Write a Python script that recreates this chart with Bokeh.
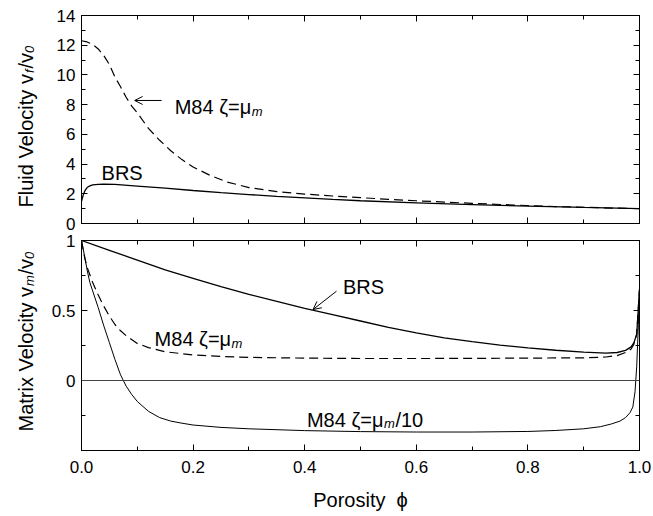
from math import pi
from bokeh.plotting import figure
from bokeh.layouts import column, row
from bokeh.models import Range1d, LinearAxis, FixedTicker, Label, Arrow, OpenHead, Span
from bokeh.embed import file_html
from bokeh.resources import INLINE

FONT = "Liberation Sans"

# ---------------- data ----------------
# Top panel: fluid velocity v_f/v_0
phi_f_m84 = [0, 0.01, 0.02, 0.03, 0.04, 0.05, 0.06, 0.07, 0.08, 0.09, 0.10, 0.12, 0.14,
             0.16, 0.18, 0.20, 0.23, 0.26, 0.30, 0.35, 0.40, 0.45, 0.50, 0.55, 0.60,
             0.65, 0.70, 0.75, 0.80, 0.85, 0.90, 0.95, 1.0]
vf_m84 = [12.3, 12.22, 12.05, 11.75, 11.3, 10.7, 9.85, 9.2, 8.5, 7.9, 7.45, 6.4, 5.6,
          4.9, 4.3, 3.8, 3.25, 2.8, 2.42, 2.15, 1.98, 1.85, 1.74, 1.63, 1.53,
          1.44, 1.36, 1.28, 1.21, 1.14, 1.09, 1.04, 1.0]

phi_f_brs = [0, 0.003, 0.006, 0.01, 0.015, 0.02, 0.03, 0.04, 0.06, 0.10, 0.15, 0.20,
             0.25, 0.30, 0.35, 0.40, 0.45, 0.50, 0.60, 0.70, 0.80, 0.90, 1.0]
vf_brs = [1.5, 1.9, 2.2, 2.42, 2.53, 2.6, 2.64, 2.65, 2.63, 2.52, 2.38, 2.22,
          2.08, 1.95, 1.83, 1.72, 1.62, 1.53, 1.39, 1.27, 1.17, 1.08, 1.0]

# Bottom panel: matrix velocity v_m/v_0
phi_m_brs = [0, 0.05, 0.10, 0.15, 0.20, 0.25, 0.30, 0.35, 0.40, 0.45, 0.50, 0.55,
             0.60, 0.65, 0.70, 0.75, 0.80, 0.85, 0.90, 0.94, 0.96, 0.975, 0.985,
             0.99, 0.995, 1.0]
vm_brs = [1.0, 0.93, 0.86, 0.79, 0.73, 0.67, 0.615, 0.565, 0.515, 0.47, 0.425, 0.38,
          0.34, 0.305, 0.277, 0.253, 0.233, 0.216, 0.203, 0.195, 0.2, 0.215, 0.24,
          0.27, 0.33, 0.65]

phi_m_m84 = [0, 0.005, 0.01, 0.02, 0.03, 0.04, 0.05, 0.06, 0.07, 0.08, 0.10, 0.12,
             0.15, 0.20, 0.25, 0.30, 0.40, 0.50, 0.60, 0.70, 0.80, 0.90, 0.94,
             0.96, 0.975, 0.985, 0.99, 0.995, 1.0]
vm_m84 = [1.0, 0.89, 0.81, 0.70, 0.61, 0.53, 0.46, 0.40, 0.355, 0.32, 0.265, 0.235,
          0.205, 0.183, 0.172, 0.165, 0.16, 0.157, 0.157, 0.158, 0.16, 0.162, 0.168,
          0.178, 0.2, 0.225, 0.26, 0.33, 0.65]

phi_m_m84_10 = [0, 0.005, 0.01, 0.015, 0.02, 0.03, 0.04, 0.05, 0.06, 0.07, 0.08, 0.09,
                0.10, 0.12, 0.14, 0.16, 0.18, 0.20, 0.25, 0.30, 0.40, 0.50, 0.60,
                0.70, 0.80, 0.85, 0.90, 0.93, 0.95, 0.965, 0.975, 0.983, 0.988,
                0.992, 0.995, 0.998, 1.0]
vm_m84_10 = [1.0, 0.9, 0.79, 0.70, 0.64, 0.52, 0.39, 0.27, 0.15, 0.04, -0.04, -0.10,
             -0.15, -0.22, -0.265, -0.29, -0.305, -0.318, -0.335, -0.345, -0.358, -0.365, -0.368,
             -0.368, -0.364, -0.357, -0.345, -0.33, -0.31, -0.29, -0.265, -0.23, -0.19,
             -0.08, 0.1, 0.4, 0.65]

# ticks
x_ticks = [0, 0.2, 0.4, 0.6, 0.8, 1]
x_minor = [0.1, 0.3, 0.5, 0.7, 0.9]
x_tick_labels = ["0.0", "0.2", "0.4", "0.6", "0.8", "1.0"]
top_y_ticks = [0, 2, 4, 6, 8, 10, 12, 14]
top_y_minor = [1, 3, 5, 7, 9, 11, 13]
top_y_labels = ["0", "2", "4", "6", "8", "10", "12", "14"]
bot_y_ticks = [-0.5, 0, 0.5, 1]
bot_y_minor = [-0.25, 0.25, 0.75]
bot_y_labels = ["", "0", "0.5", "1"]

LAB_W = 48
MAIN_W = 653 - LAB_W
TOP_H = 232
BOT_H = 284
TOTAL_H = TOP_H + BOT_H


def make_fig(height, y0, y1, b_top, b_bottom):
    p = figure(width=MAIN_W, height=height, x_range=Range1d(0, 1), y_range=Range1d(y0, y1),
               output_backend="svg", toolbar_location=None,
               x_axis_type=None, y_axis_type=None,
               min_border_left=80 - LAB_W, min_border_right=14,
               min_border_top=b_top, min_border_bottom=b_bottom)
    p.outline_line_color = "black"
    p.outline_line_width = 1
    p.background_fill_color = "white"
    p.border_fill_color = "white"
    return p


def add_axis(p, place, ticks, minor, labels=None, standoff=6):
    ax = LinearAxis(ticker=FixedTicker(ticks=ticks, minor_ticks=minor))
    ax.major_tick_in = 6
    ax.major_tick_out = 0
    ax.minor_tick_in = 4
    ax.minor_tick_out = 0
    ax.axis_line_color = "black"
    ax.major_tick_line_color = "black"
    ax.minor_tick_line_color = "black"
    if labels is None:
        ax.major_label_overrides = {t: "" for t in ticks}
        ax.major_label_text_font_size = "0px"
        ax.major_label_standoff = 0
    else:
        ax.major_label_overrides = dict(zip(ticks, labels))
        ax.major_label_text_font = FONT
        ax.major_label_text_font_size = "17px"
        ax.major_label_text_color = "black"
        ax.major_label_standoff = standoff
    p.add_layout(ax, place)
    return ax


def add_text(p, x, y, pieces, angle=0.0):
    # pieces: (text, font size, style, advance px along baseline, shift px below baseline)
    for txt, size, style, adv, sub in pieces:
        if angle == 0.0:
            xo, yo = adv, -sub
        else:
            xo, yo = sub, adv
        p.add_layout(Label(x=x, y=y, text=txt, x_offset=xo, y_offset=yo, angle=angle,
                           text_font=FONT, text_font_size=f"{size}px", text_font_style=style,
                           text_color="black", text_align="left", text_baseline="alphabetic"))


# ---------------- top panel ----------------
p1 = make_fig(TOP_H, 0, 14, 15, 9)
add_axis(p1, "left", top_y_ticks, top_y_minor, top_y_labels, standoff=6)
add_axis(p1, "right", top_y_ticks, top_y_minor)
add_axis(p1, "below", x_ticks, x_minor)
add_axis(p1, "above", x_ticks, x_minor)

p1.line(phi_f_m84, vf_m84, line_color="black", line_width=1.2, line_dash="9 5")
p1.line(phi_f_brs, vf_brs, line_color="black", line_width=1.3)

add_text(p1, 0.167, 7.81, [("M84 ζ=μ", 20, "normal", 0, 0),
                           ("m", 13, "italic", 77, 4)])
add_text(p1, 0.036, 3.43, [("BRS", 20, "normal", 0, 0)])
p1.add_layout(Arrow(x_start=0.1436, y_start=8.28, x_end=0.0952, y_end=8.28,
                    line_color="black", line_width=1,
                    end=OpenHead(size=8, line_width=1, line_color="black")))

# ---------------- bottom panel ----------------
p2 = make_fig(BOT_H, -0.5, 1.0, 8, 66)
add_axis(p2, "left", bot_y_ticks, bot_y_minor, bot_y_labels, standoff=6)
add_axis(p2, "right", bot_y_ticks, bot_y_minor)
add_axis(p2, "above", x_ticks, x_minor)
xb = add_axis(p2, "below", x_ticks, x_minor, x_tick_labels, standoff=10)
xb.axis_label = "Porosity \u00a0ϕ"
xb.axis_label_text_font = FONT
xb.axis_label_text_font_size = "20px"
xb.axis_label_text_font_style = "normal"
xb.axis_label_text_color = "black"
xb.axis_label_standoff = 13

p2.add_layout(Span(location=0, dimension="width", line_color="#444444", line_width=1))
p2.line(phi_m_brs, vm_brs, line_color="black", line_width=1.3)
p2.line(phi_m_m84, vm_m84, line_color="black", line_width=1.2, line_dash="9 5")
p2.line(phi_m_m84_10, vm_m84_10, line_color="black", line_width=1.0)

add_text(p2, 0.4686, 0.671, [("BRS", 20, "normal", 0, 0)])
p2.add_layout(Arrow(x_start=0.457, y_start=0.638, x_end=0.415, y_end=0.507,
                    line_color="black", line_width=1,
                    end=OpenHead(size=8, line_width=1, line_color="black")))
add_text(p2, 0.131, 0.293, [("M84 ζ=μ", 20, "normal", 0, 0),
                            ("m", 13, "italic", 77, 4)])
add_text(p2, 0.404, -0.279, [("M84 ζ=μ", 20, "normal", 0, 0),
                             ("m", 13, "italic", 77, 4),
                             ("/10", 20, "normal", 88.5, 0)])

# ---------------- y-axis titles (separate strip on the left) ----------------
pl = figure(width=LAB_W, height=TOTAL_H, x_range=Range1d(0, LAB_W), y_range=Range1d(0, TOTAL_H),
            output_backend="svg", toolbar_location=None, x_axis_type=None, y_axis_type=None,
            min_border=0, min_border_left=0, min_border_right=0, min_border_top=0,
            min_border_bottom=0)
pl.outline_line_color = None
pl.background_fill_color = "white"
pl.border_fill_color = "white"

add_text(pl, 25, TOTAL_H - 207, [("Fluid Velocity v", 20, "normal", 0, 0),
                                 ("f", 13, "italic", 134.5, 4),
                                 ("/v", 20, "normal", 139.0, 0),
                                 ("0", 13, "italic", 154.6, 4)], angle=pi / 2)
add_text(pl, 25, TOTAL_H - 431, [("Matrix Velocity v", 20, "normal", 0, 0),
                                 ("m", 13, "italic", 145.6, 4),
                                 ("/v", 20, "normal", 156.9, 0),
                                 ("0", 13, "italic", 172.5, 4)], angle=pi / 2)

layout = row(pl, column(p1, p2, spacing=0), spacing=0)
open("out.html", "w").write(file_html(layout, INLINE))
